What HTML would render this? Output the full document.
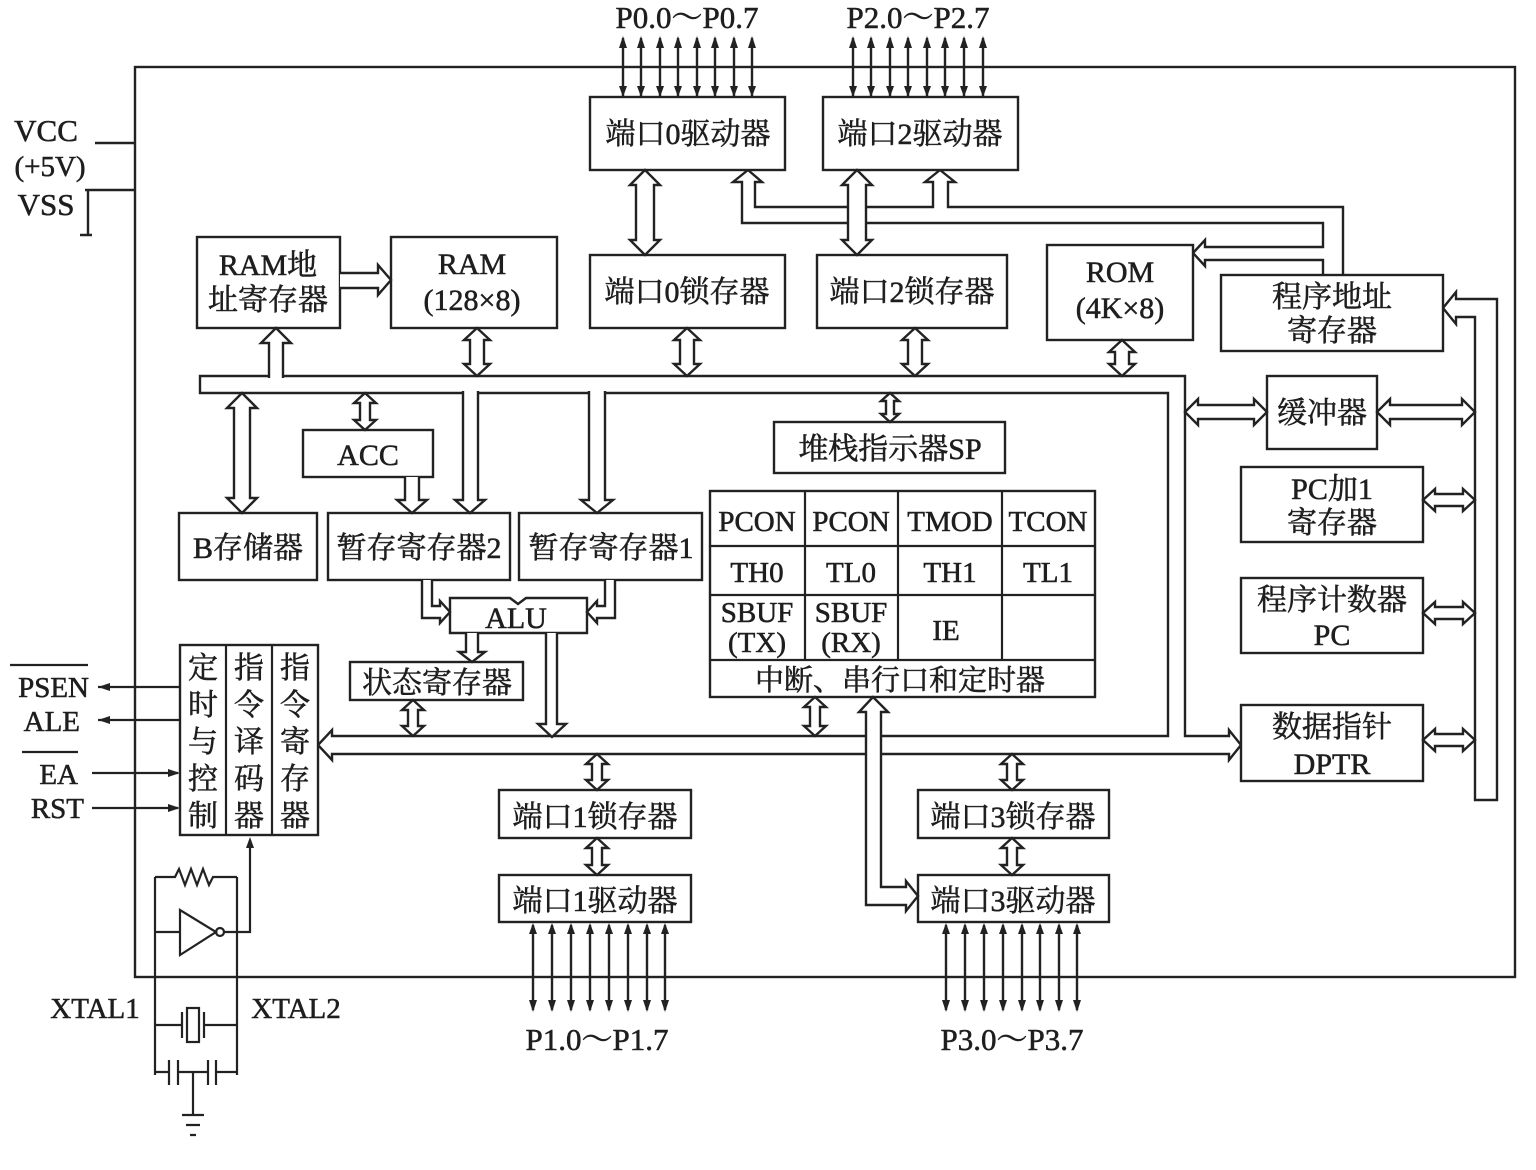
<!DOCTYPE html>
<html><head><meta charset="utf-8"><style>
html,body{margin:0;padding:0;background:#fff;}
svg{display:block;}
text{font-family:"Liberation Serif","Noto Serif CJK SC",serif;fill:#1e1e1e;stroke:#1e1e1e;stroke-width:0.55;}
</style></head><body>
<svg width="1536" height="1170" viewBox="0 0 1536 1170" xmlns="http://www.w3.org/2000/svg">
<g fill="none" stroke="#222" stroke-width="2.4">
<rect x="135" y="67" width="1380" height="910"/>
<path d="M95 143 H135 M85 190 H135 M88 190 V235 M80 235 H92"/>
<path d="M623 38V97 M641 38V97 M660 38V97 M678 38V97 M697 38V97 M715 38V97 M734 38V97 M752 38V97"/>
<path d="M853 38V97 M871 38V97 M890 38V97 M908 38V97 M927 38V97 M945 38V97 M964 38V97 M983 38V97"/>
<path d="M533 925V1010 M552 925V1010 M571 925V1010 M590 925V1010 M609 925V1010 M628 925V1010 M647 925V1010 M665 925V1010"/>
<path d="M946 925V1010 M965 925V1010 M984 925V1010 M1003 925V1010 M1022 925V1010 M1040 925V1010 M1059 925V1010 M1077 925V1010"/>
</g>
<g fill="#222">
<path d="M619 48L623 36L627 48Z M637 48L641 36L645 48Z M656 48L660 36L664 48Z M674 48L678 36L682 48Z M693 48L697 36L701 48Z M711 48L715 36L719 48Z M730 48L734 36L738 48Z M748 48L752 36L756 48Z"/>
<path d="M619 86L623 97L627 86Z M637 86L641 97L645 86Z M656 86L660 97L664 86Z M674 86L678 97L682 86Z M693 86L697 97L701 86Z M711 86L715 97L719 86Z M730 86L734 97L738 86Z M748 86L752 97L756 86Z"/>
<path d="M849 48L853 36L857 48Z M867 48L871 36L875 48Z M886 48L890 36L894 48Z M904 48L908 36L912 48Z M923 48L927 36L931 48Z M941 48L945 36L949 48Z M960 48L964 36L968 48Z M979 48L983 36L987 48Z"/>
<path d="M849 86L853 97L857 86Z M867 86L871 97L875 86Z M886 86L890 97L894 86Z M904 86L908 97L912 86Z M923 86L927 97L931 86Z M941 86L945 97L949 86Z M960 86L964 97L968 86Z M979 86L983 97L987 86Z"/>
<path d="M529 934L533 923L537 934Z M548 934L552 923L556 934Z M567 934L571 923L575 934Z M586 934L590 923L594 934Z M605 934L609 923L613 934Z M624 934L628 923L632 934Z M643 934L647 923L651 934Z M661 934L665 923L669 934Z"/>
<path d="M529 1000L533 1012L537 1000Z M548 1000L552 1012L556 1000Z M567 1000L571 1012L575 1000Z M586 1000L590 1012L594 1000Z M605 1000L609 1012L613 1000Z M624 1000L628 1012L632 1000Z M643 1000L647 1012L651 1000Z M661 1000L665 1012L669 1000Z"/>
<path d="M942 934L946 923L950 934Z M961 934L965 923L969 934Z M980 934L984 923L988 934Z M999 934L1003 923L1007 934Z M1018 934L1022 923L1026 934Z M1036 934L1040 923L1044 934Z M1055 934L1059 923L1063 934Z M1073 934L1077 923L1081 934Z"/>
<path d="M942 1000L946 1012L950 1000Z M961 1000L965 1012L969 1000Z M980 1000L984 1012L988 1000Z M999 1000L1003 1012L1007 1000Z M1018 1000L1022 1012L1026 1000Z M1036 1000L1040 1012L1044 1000Z M1055 1000L1059 1012L1063 1000Z M1073 1000L1077 1012L1081 1000Z"/>
</g>

<g fill="#fff" stroke="#222" stroke-width="2.4">
<path d="M200 376 L1185 376 L1185 736 L1229 736 L1229 730 L1241 745 L1229 760 L1229 754 L332 754 L332 760 L318 745 L332 730 L332 736 L1168 736 L1168 393 L200 393 Z"/>
<path d="M1475 317 L1475 800 L1497 800 L1497 299 L1456 299 L1456 292 L1443 308 L1456 324 L1456 317 Z"/>
<path d="M1343 275 L1343 207 L948 207 L948 182 L955 182 L940 170 L925 182 L933 182 L933 207 L755 207 L755 182 L762 182 L748 170 L733 182 L742 182 L742 223 L1323 223 L1323 247 L1205 247 L1205 240 L1193 253 L1205 266 L1205 260 L1323 260 L1323 275"/>

<rect x="590" y="97" width="195" height="73"/>
<rect x="823" y="97" width="195" height="73"/>
<rect x="197" y="237" width="143" height="91"/>
<rect x="391" y="237" width="166" height="91"/>
<rect x="590" y="255" width="195" height="73"/>
<rect x="817" y="255" width="190" height="73"/>
<rect x="1047" y="245" width="146" height="95"/>
<rect x="1221" y="275" width="222" height="76"/>
<rect x="1267" y="376" width="110" height="73"/>
<rect x="1241" y="467" width="182" height="75"/>
<rect x="1241" y="578" width="182" height="75"/>
<rect x="1241" y="705" width="182" height="76"/>
<rect x="774" y="422" width="231" height="51"/>
<rect x="710" y="491" width="385" height="206"/>
<rect x="303" y="430" width="130" height="47"/>
<rect x="179" y="513" width="138" height="67"/>
<rect x="328" y="513" width="182" height="67"/>
<rect x="519" y="513" width="183" height="67"/>
<path d="M450 633 L450 598 L510 598 L518 604 L526 598 L587 598 L587 633 Z"/>
<rect x="350" y="662" width="173" height="38"/>
<rect x="180" y="645" width="138" height="190"/>
<rect x="499" y="790" width="192" height="48"/>
<rect x="499" y="875" width="192" height="47"/>
<rect x="918" y="790" width="191" height="48"/>
<rect x="918" y="875" width="191" height="47"/>

<path d="M340 273 L378 273 L378 265 L391 280 L378 295 L378 288 L340 288"/>

<path d="M645 170 L660 185 L654 185 L654 240 L660 240 L645 255 L630 240 L636 240 L636 185 L630 185 Z"/>
<path d="M857 170 L872 185 L866 185 L866 240 L872 240 L857 255 L842 240 L848 240 L848 185 L842 185 Z"/>
<path d="M477 328 L490 340 L484 340 L484 364 L490 364 L477 376 L464 364 L470 364 L470 340 L464 340 Z"/>
<path d="M687 328 L700 340 L694 340 L694 364 L700 364 L687 376 L674 364 L680 364 L680 340 L674 340 Z"/>
<path d="M915 328 L928 340 L922 340 L922 364 L928 364 L915 376 L902 364 L908 364 L908 340 L902 340 Z"/>
<path d="M1122 340 L1135 352 L1129 352 L1129 364 L1135 364 L1122 376 L1109 364 L1115 364 L1115 352 L1109 352 Z"/>
<path d="M269 378 L269 343 L261 343 L276 328 L291 343 L283 343 L283 378"/>
<path d="M242 393 L257 408 L250 408 L250 498 L257 498 L242 513 L227 498 L234 498 L234 408 L227 408 Z"/>
<path d="M365 393 L376 403 L370 403 L370 420 L376 420 L365 430 L354 420 L360 420 L360 403 L354 403 Z"/>
<path d="M890 393 L899 401 L894 401 L894 414 L899 414 L890 422 L881 414 L886 414 L886 401 L881 401 Z"/>
<path d="M463 391 L463 500 L455 500 L470 513 L485 500 L478 500 L478 391"/>
<path d="M405 477 L405 500 L397 500 L412 513 L427 500 L419 500 L419 477"/>
<path d="M589 391 L589 500 L581 500 L597 513 L613 500 L605 500 L605 391"/>
<path d="M422 580 L422 618 L440 618 L440 623 L450 612 L440 601 L440 606 L432 606 L432 580"/>
<path d="M615 580 L615 618 L597 618 L597 623 L587 612 L597 601 L597 606 L605 606 L605 580"/>
<path d="M466 633 L466 652 L459 652 L472 662 L485 652 L478 652 L478 633"/>
<path d="M546 633 L546 724 L538 724 L552 737 L566 724 L557 724 L557 633"/>
<path d="M413 700 L424 710 L418 710 L418 726 L424 726 L413 736 L402 726 L408 726 L408 710 L402 710 Z"/>
<path d="M815 697 L826 707 L820 707 L820 726 L826 726 L815 736 L804 726 L810 726 L810 707 L804 707 Z"/>
<path d="M873 697 L888 712 L881 712 L881 887 L906 887 L906 881 L918 896 L906 911 L906 905 L866 905 L866 712 L859 712 Z"/>
<path d="M597 754 L608 764 L602 764 L602 780 L608 780 L597 790 L586 780 L592 780 L592 764 L586 764 Z"/>
<path d="M597 838 L608 848 L602 848 L602 865 L608 865 L597 875 L586 865 L592 865 L592 848 L586 848 Z"/>
<path d="M1012 754 L1023 764 L1017 764 L1017 780 L1023 780 L1012 790 L1001 780 L1007 780 L1007 764 L1001 764 Z"/>
<path d="M1012 838 L1023 848 L1017 848 L1017 865 L1023 865 L1012 875 L1001 865 L1007 865 L1007 848 L1001 848 Z"/>
<path d="M1185 412 L1198 399 L1198 405 L1254 405 L1254 399 L1267 412 L1254 425 L1254 419 L1198 419 L1198 425 Z"/>
<path d="M1377 412 L1390 399 L1390 405 L1462 405 L1462 399 L1475 412 L1462 425 L1462 419 L1390 419 L1390 425 Z"/>
<path d="M1423 500 L1435 489 L1435 494 L1463 494 L1463 489 L1475 500 L1463 511 L1463 506 L1435 506 L1435 511 Z"/>
<path d="M1423 613 L1435 602 L1435 607 L1463 607 L1463 602 L1475 613 L1463 624 L1463 619 L1435 619 L1435 624 Z"/>
<path d="M1423 740 L1435 729 L1435 734 L1463 734 L1463 729 L1475 740 L1463 751 L1463 746 L1435 746 L1435 751 Z"/>
</g>

<g fill="none" stroke="#222" stroke-width="2.2">
<path d="M710 546 H1095 M710 595 H1095 M710 660 H1095 M805 491 V660 M898 491 V660 M1002 491 V660"/>
<path d="M226 645 V835 M272 645 V835"/>
<path d="M98 687 H180 M98 720 H180 M92 773 H178 M92 808 H178"/>
<path d="M155 877 H175 L179 869 L185 885 L191 869 L197 885 L203 869 L209 885 L213 877 H237"/>
<path d="M155 877 V1075 M237 877 V1075"/>
<path d="M180 910 L180 955 L216 932 Z"/>
<circle cx="220" cy="932" r="4"/>
<path d="M155 932 H180 M224 932 H250 V840"/>
<path d="M155 1025 H182 M182 1012 V1038 M204 1012 V1038 M204 1025 H237"/>
<rect x="187" y="1008" width="12" height="34"/>
<path d="M155 1072 H169 M169 1060 V1085 M178 1060 V1085 M178 1072 H208 M208 1060 V1085 M216 1060 V1085 M216 1072 H237"/>
<path d="M193 1072 V1115 M182 1115 H204 M186 1125 H200 M190 1135 H196"/>
<path d="M10 665 H88 M22 752 H78"/>
</g>
<g fill="#222">
<path d="M98 687 L110 683 L110 691 Z M98 720 L110 716 L110 724 Z M180 773 L168 769 L168 777 Z M180 808 L168 804 L168 812 Z M250 837 L246 848 L254 848 Z"/>
</g>

<g font-size="30">
<text x="687" y="28" text-anchor="middle" font-size="31">P0.0～P0.7</text>
<text x="918" y="28" text-anchor="middle" font-size="31">P2.0～P2.7</text>
<text x="597" y="1050" text-anchor="middle" font-size="31">P1.0～P1.7</text>
<text x="1012" y="1050" text-anchor="middle" font-size="31">P3.0～P3.7</text>
<text x="46" y="141" text-anchor="middle" font-size="31">VCC</text>
<text x="50" y="176" text-anchor="middle" font-size="29">(+5V)</text>
<text x="46" y="215" text-anchor="middle" font-size="31">VSS</text>
<text x="89" y="697" text-anchor="end" font-size="29">PSEN</text>
<text x="80" y="731" text-anchor="end" font-size="29">ALE</text>
<text x="78" y="784" text-anchor="end" font-size="29">EA</text>
<text x="84" y="818" text-anchor="end" font-size="29">RST</text>
<text x="95" y="1018" text-anchor="middle" font-size="29">XTAL1</text>
<text x="296" y="1018" text-anchor="middle" font-size="29">XTAL2</text>

<text x="688" y="144" text-anchor="middle">端口0驱动器</text>
<text x="920" y="144" text-anchor="middle">端口2驱动器</text>
<text x="268" y="275" text-anchor="middle">RAM地</text>
<text x="268" y="310" text-anchor="middle">址寄存器</text>
<text x="472" y="274" text-anchor="middle">RAM</text>
<text x="472" y="310" text-anchor="middle">(128×8)</text>
<text x="687" y="302" text-anchor="middle">端口0锁存器</text>
<text x="912" y="302" text-anchor="middle">端口2锁存器</text>
<text x="1120" y="282" text-anchor="middle">ROM</text>
<text x="1120" y="318" text-anchor="middle">(4K×8)</text>
<text x="1332" y="307" text-anchor="middle">程序地址</text>
<text x="1332" y="341" text-anchor="middle">寄存器</text>
<text x="1322" y="423" text-anchor="middle">缓冲器</text>
<text x="1332" y="499" text-anchor="middle">PC加1</text>
<text x="1332" y="533" text-anchor="middle">寄存器</text>
<text x="1332" y="610" text-anchor="middle">程序计数器</text>
<text x="1332" y="645" text-anchor="middle">PC</text>
<text x="1332" y="737" text-anchor="middle">数据指针</text>
<text x="1332" y="774" text-anchor="middle">DPTR</text>
<text x="890" y="459" text-anchor="middle">堆栈指示器SP</text>
<text x="368" y="465" text-anchor="middle">ACC</text>
<text x="248" y="558" text-anchor="middle">B存储器</text>
<text x="419" y="558" text-anchor="middle">暂存寄存器2</text>
<text x="611" y="558" text-anchor="middle">暂存寄存器1</text>
<text x="516" y="628" text-anchor="middle">ALU</text>
<text x="437" y="693" text-anchor="middle">状态寄存器</text>
<text x="595" y="827" text-anchor="middle">端口1锁存器</text>
<text x="595" y="911" text-anchor="middle">端口1驱动器</text>
<text x="1013" y="827" text-anchor="middle">端口3锁存器</text>
<text x="1013" y="911" text-anchor="middle">端口3驱动器</text>
</g>
<g font-size="29" text-anchor="middle">
<text x="757" y="531">PCON</text>
<text x="851" y="531">PCON</text>
<text x="950" y="531">TMOD</text>
<text x="1048" y="531">TCON</text>
<text x="757" y="582">TH0</text>
<text x="851" y="582">TL0</text>
<text x="950" y="582">TH1</text>
<text x="1048" y="582">TL1</text>
<text x="757" y="622">SBUF</text>
<text x="757" y="652">(TX)</text>
<text x="851" y="622">SBUF</text>
<text x="851" y="652">(RX)</text>
<text x="946" y="640">IE</text>
<text x="900" y="690">中断、串行口和定时器</text>
</g>
<g font-size="30" text-anchor="middle">
<text x="203" y="678">定</text><text x="203" y="715">时</text><text x="203" y="752">与</text><text x="203" y="789">控</text><text x="203" y="826">制</text>
<text x="249" y="678">指</text><text x="249" y="715">令</text><text x="249" y="752">译</text><text x="249" y="789">码</text><text x="249" y="826">器</text>
<text x="295" y="678">指</text><text x="295" y="715">令</text><text x="295" y="752">寄</text><text x="295" y="789">存</text><text x="295" y="826">器</text>
</g>
</svg>
</body></html>
